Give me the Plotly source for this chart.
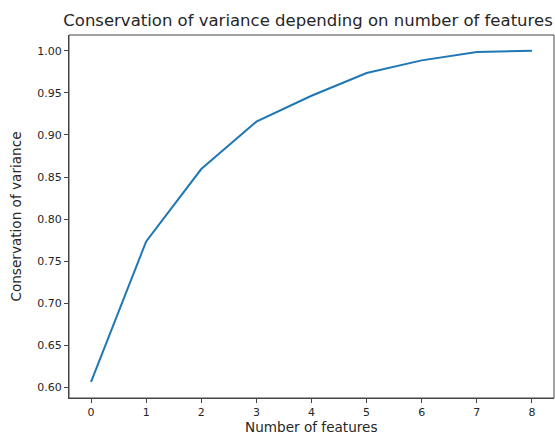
import plotly.graph_objects as go

n_features = [0, 1, 2, 3, 4, 5, 6, 7, 8]
variance = [0.6067, 0.7735, 0.8595, 0.9157, 0.9465, 0.9735, 0.9885, 0.9985, 0.9998]
y_ticks = [0.60, 0.65, 0.70, 0.75, 0.80, 0.85, 0.90, 0.95, 1.00]

FONT = "DejaVu Sans"
TXT = "#262626"
W, H = 555, 436

fig = go.Figure(go.Scatter(x=n_features, y=variance, mode="lines",
                           line=dict(color="#1f77b4", width=2)))

fig.update_layout(
    width=W, height=H,
    margin=dict(l=69, r=1, t=35, b=38, autoexpand=False),
    plot_bgcolor="white", paper_bgcolor="white",
    font=dict(family=FONT, size=11, color=TXT),
    showlegend=False,
    title=dict(text="Conservation of variance depending on number of features",
               font=dict(family=FONT, size=16.5, color=TXT),
               xref="container", x=308 / W, xanchor="center",
               yref="container", y=1 - 20.5 / H, yanchor="middle"),
    shapes=[dict(type="rect", xref="paper", yref="paper", x0=0, x1=1, y0=0, y1=1,
                 line=dict(color="#444", width=1), layer="above")],
    annotations=[dict(text="Number of features", xref="paper", yref="paper",
                      x=0.5, y=0, xanchor="center", yanchor="middle", yshift=-29,
                      showarrow=False, font=dict(family=FONT, size=13.6, color=TXT))],
)
fig.update_xaxes(range=[-0.4, 8.4], tickvals=n_features, showgrid=False, zeroline=False,
                 showline=True, linecolor="#444", linewidth=1,
                 ticks="outside", ticklen=4, tickcolor="#444", automargin=False)
fig.update_yaxes(range=[0.5877, 1.0186], tickvals=y_ticks, tickformat=".2f",
                 showgrid=False, zeroline=False,
                 showline=True, linecolor="#444", linewidth=1,
                 ticks="outside", ticklen=4, tickcolor="#444", automargin=False,
                 title=dict(text="Conservation of variance", standoff=12,
                            font=dict(family=FONT, size=13.6, color=TXT)))

fig.write_html("out.html", config={"displayModeBar": False},
               post_script="document.body.style.margin='0';document.body.style.overflow='hidden';")
